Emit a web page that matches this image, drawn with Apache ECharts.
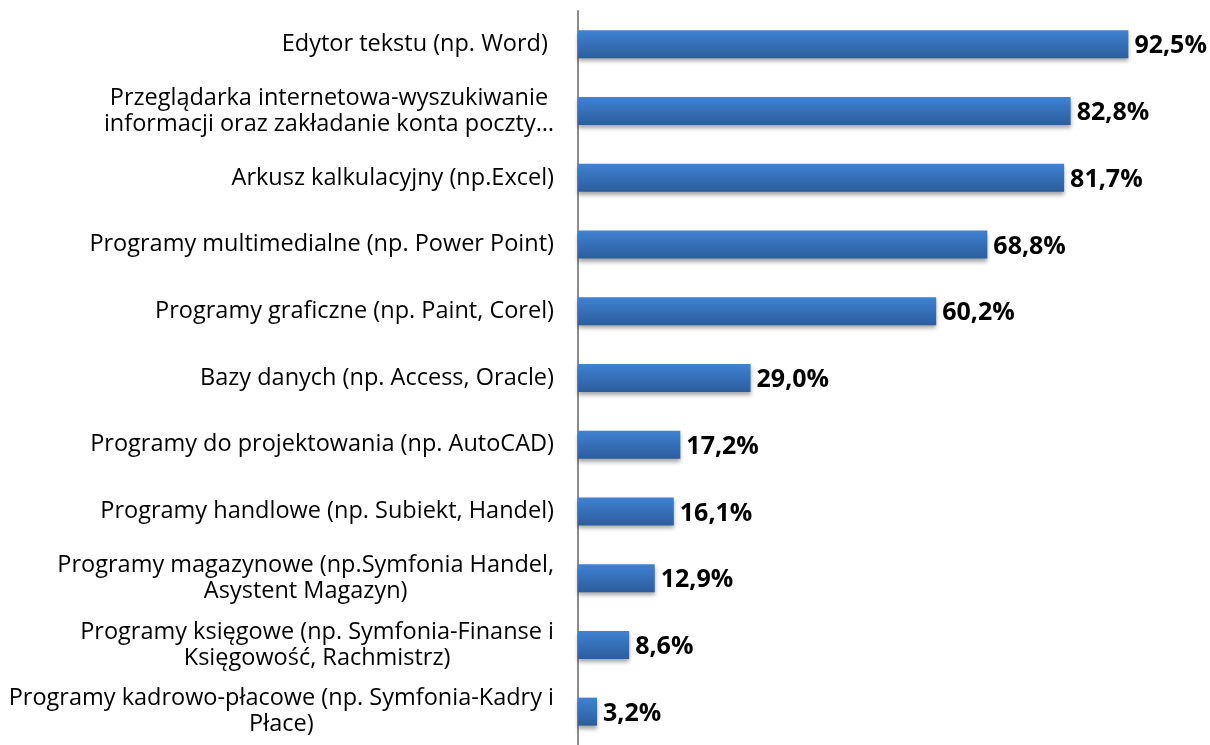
<!DOCTYPE html>
<html>
<head>
<meta charset="utf-8">
<script src="https://cdn.jsdelivr.net/npm/echarts@6/dist/echarts.min.js"></script>
<style>
html, body { margin: 0; padding: 0; background: #fff; }
#container { width: 1210px; height: 745px; }
</style>
</head>
<body>
<div id="container"></div>
<script>
// categories listed top to bottom
var categories = [
    'Edytor tekstu (np. Word) ',
    'Przeglądarka internetowa-wyszukiwanie\ninformacji oraz zakładanie konta poczty…',
    'Arkusz kalkulacyjny (np.Excel)',
    'Programy multimedialne (np. Power Point)',
    'Programy graficzne (np. Paint, Corel)',
    'Bazy danych (np. Access, Oracle)',
    'Programy do projektowania (np. AutoCAD)',
    'Programy handlowe (np. Subiekt, Handel)',
    'Programy magazynowe (np.Symfonia Handel,\nAsystent Magazyn)',
    'Programy księgowe (np. Symfonia-Finanse i\nKsięgowość, Rachmistrz)',
    'Programy kadrowo-płacowe (np. Symfonia-Kadry i\nPłace)'
];
var values = [92.5, 82.8, 81.7, 68.8, 60.2, 29.0, 17.2, 16.1, 12.9, 8.6, 3.2];

var dom = document.getElementById("container");
var myChart = echarts.init(dom);
var option = {
    animation: false,
    grid: {
        left: 578,
        right: 37,
        top: 11,
        height: 740
    },
    xAxis: {
        type: 'value',
        min: 0,
        max: 100,
        show: false
    },
    yAxis: {
        type: 'category',
        inverse: true,
        data: categories,
        axisLine: { show: true, lineStyle: { color: '#8c8c8c', width: 2 } },
        axisTick: { show: false },
        axisLabel: {
            margin: 24,
            align: 'right',
            formatter: function (v) {
                // multi-line labels are centred line by line
                return v.split('\n').map(function (s) { return '{c|' + s + '}'; }).join('\n');
            },
            rich: {
                c: {
                    align: 'center',
                    color: '#000',
                    fontFamily: 'Open Sans',
                    fontSize: 23.5,
                    lineHeight: 26
                }
            }
        }
    },
    series: [{
        type: 'bar',
        data: values,
        barWidth: 28,
        itemStyle: {
            color: new echarts.graphic.LinearGradient(0, 0, 0, 1, [
                { offset: 0, color: '#4082d2' },
                { offset: 1, color: '#2c5d9c' }
            ]),
            shadowColor: 'rgba(0,0,0,0.35)',
            shadowBlur: 4,
            shadowOffsetY: 3
        },
        label: {
            show: true,
            position: 'right',
            distance: 6,
            offset: [0, 2],
            color: '#000',
            fontFamily: 'Open Sans',
            fontWeight: 'bold',
            fontSize: 25,
            formatter: function (p) {
                return p.value.toFixed(1).replace('.', ',') + '%';
            }
        }
    }]
};
myChart.setOption(option, true);
</script>
</body>
</html>
